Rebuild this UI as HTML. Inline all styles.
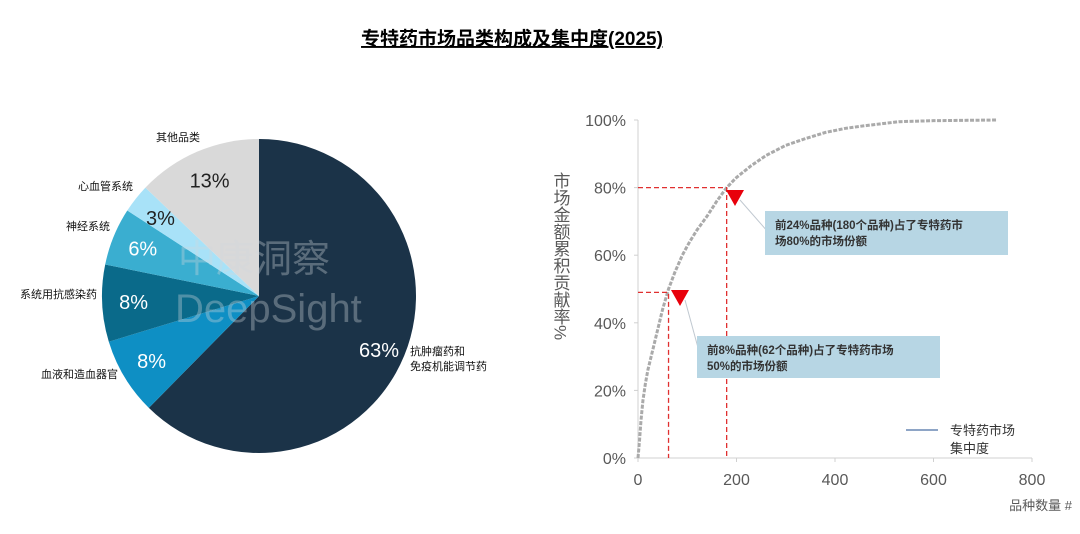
<!DOCTYPE html>
<html><head><meta charset="utf-8"><style>
body{margin:0;background:#fff;}
svg text{font-family:"Liberation Sans","Noto Sans CJK SC",sans-serif;}
</style></head><body>
<svg width="1080" height="529" viewBox="0 0 1080 529">
<text x="512" y="45" text-anchor="middle" font-size="19" font-weight="bold" fill="#000" text-decoration="underline">专特药市场品类构成及集中度(2025)</text>
<g id="pie"></g>
<g id="line"></g>
</svg>
<script>
const pieCats=["抗肿瘤药和\n免疫机能调节药","血液和造血器官","系统用抗感染药","神经系统","心血管系统","其他品类"];
const pieVals=[63,8,8,6,3,13];
const pieColors=["#1b3348","#0e8fc4","#0a6a8a","#3aaed0","#a8e2f8","#d9d9d9"];
const lineX=[0,3,6,10,15,20,30,40,50,62,75,90,105,120,140,160,180,200,230,260,300,340,380,420,460,530,600,730];
const lineY=[0,5,11,17,22,26,32,38,44,50,55,60,64,67.5,71.5,76,80,83,86.5,89.5,92.5,94.5,96.3,97.5,98.3,99.5,99.8,100];
const xTicks=[0,200,400,600,800];
const yTicks=[0,20,40,60,80,100];
const NS="http://www.w3.org/2000/svg";
function mk(p,t,a){const e=document.createElementNS(NS,t);for(const k in a)e.setAttribute(k,a[k]);p.appendChild(e);return e;}
// pie
const pie=document.getElementById('pie');
const cx=259,cy=296,r=157;
const tot=pieVals.reduce((a,b)=>a+b,0);
let acc=0;
const lblPos=[[410,355,"start"],[118,378,"end"],[97,298,"end"],[110,230,"end"],[133,190,"end"],[200,141,"end"]];
const pctColor=["#fff","#fff","#fff","#fff","#222","#222"];
pieVals.forEach((v,i)=>{
 const a0=acc/tot*2*Math.PI;acc+=v;const a1=acc/tot*2*Math.PI;
 const p0=[cx+r*Math.sin(a0),cy-r*Math.cos(a0)],p1=[cx+r*Math.sin(a1),cy-r*Math.cos(a1)];
 const s=mk(pie,'path',{d:`M${cx},${cy}L${p0[0]},${p0[1]}A${r},${r} 0 ${a1-a0>Math.PI?1:0} 1 ${p1[0]},${p1[1]}Z`,fill:pieColors[i]});
 
 
 const am=(a0+a1)/2,rr=0.8;
 const t=mk(pie,'text',{x:cx+rr*r*Math.sin(am),y:cy-rr*r*Math.cos(am)+7,'text-anchor':'middle','font-size':20,fill:pctColor[i]});
 if(i==0){t.setAttribute('x',379);t.setAttribute('y',357);}
 t.textContent=v+'%';
 
 
 const lp=lblPos[i];
 const lt=mk(pie,'text',{x:lp[0],y:lp[1],'text-anchor':lp[2],'font-size':11,fill:'#111'});
 pieCats[i].split('\n').forEach((s2,j)=>{const ts=mk(lt,'tspan',{x:lp[0],dy:j?15:0});ts.textContent=s2;});
 
 
});
const w1=mk(pie,'text',{x:178,y:272,'font-size':38,fill:'rgba(210,215,220,0.35)'});w1.textContent='中康洞察';


const w2=mk(pie,'text',{x:175,y:322,'font-size':40,fill:'rgba(210,215,220,0.35)'});w2.textContent='DeepSight';


// line chart
const g=document.getElementById('line');
const X=v=>638+v*(1032-638)/800, Y=v=>458-v*(458-120)/100;
mk(g,'line',{x1:638,y1:120,x2:638,y2:458,stroke:'#d0d0d0'});
mk(g,'line',{x1:638,y1:458,x2:1032,y2:458,stroke:'#d0d0d0'});
yTicks.forEach(t=>{mk(g,'line',{x1:634,y1:Y(t),x2:638,y2:Y(t),stroke:'#d0d0d0'});
 const e=mk(g,'text',{x:626,y:Y(t)+6,'text-anchor':'end','font-size':16,fill:'#595959'});e.textContent=t+'%';
 
 });
xTicks.forEach(t=>{mk(g,'line',{x1:X(t),y1:458,x2:X(t),y2:462,stroke:'#d0d0d0'});
 const e=mk(g,'text',{x:X(t),y:485,'text-anchor':'middle','font-size':16,fill:'#595959'});e.textContent=t;
 
 });
let d='';lineX.forEach((x,i)=>{d+=(i?'L':'M')+X(x)+','+Y(lineY[i]);});
const pl=mk(g,'path',{d:d,fill:'none',stroke:'#aaaaaa','stroke-width':3,'stroke-dasharray':'4,1.5'});


[[180,80],[62,49]].forEach((m,i)=>{
 mk(g,'path',{d:`M638,${Y(m[1])}H${X(m[0])}V458`,fill:'none',stroke:'#e03030','stroke-width':1.3,'stroke-dasharray':'5,3'});
});
mk(g,'line',{x1:740,y1:200,x2:768,y2:232,stroke:'#c0c8d0'});
mk(g,'line',{x1:685,y1:300,x2:700,y2:355,stroke:'#c0c8d0'});
mk(g,'path',{d:'M726,190L744,190L735,206Z',fill:'#e8000b'});
mk(g,'path',{d:'M671,290L689,290L680,306Z',fill:'#e8000b'});
function box(x,y,w,h,l1,l2,n){mk(g,'rect',{x:x,y:y,width:w,height:h,fill:'#b7d6e4'});
 const t=mk(g,'text',{x:x+10,y:y+18,'font-size':11.5,'font-weight':'bold',fill:'#333'});
 const a=mk(t,'tspan',{x:x+10});a.textContent=l1;const b=mk(t,'tspan',{x:x+10,dy:16});b.textContent=l2;
 
 }
box(765,211,243,44,'前24%品种(180个品种)占了专特药市','场80%的市场份额','callout-80');
box(697,336,243,42,'前8%品种(62个品种)占了专特药市场','50%的市场份额','callout-50');
mk(g,'line',{x1:906,y1:430,x2:938,y2:430,stroke:'#4a6fa5','stroke-width':1.2});
const lg=mk(g,'text',{x:950,y:435,'font-size':13,fill:'#333'});
const l1=mk(lg,'tspan',{x:950});l1.textContent='专特药市场';const l2=mk(lg,'tspan',{x:950,dy:18});l2.textContent='集中度';


const xt=mk(g,'text',{x:1072,y:510,'text-anchor':'end','font-size':13,fill:'#595959'});xt.textContent='品种数量 #';


const yt=mk(g,'text',{x:560,y:172,'font-size':17,fill:'#595959','writing-mode':'tb','glyph-orientation-vertical':0});yt.textContent='市场金额累积贡献率%';


</script>
</body></html>
